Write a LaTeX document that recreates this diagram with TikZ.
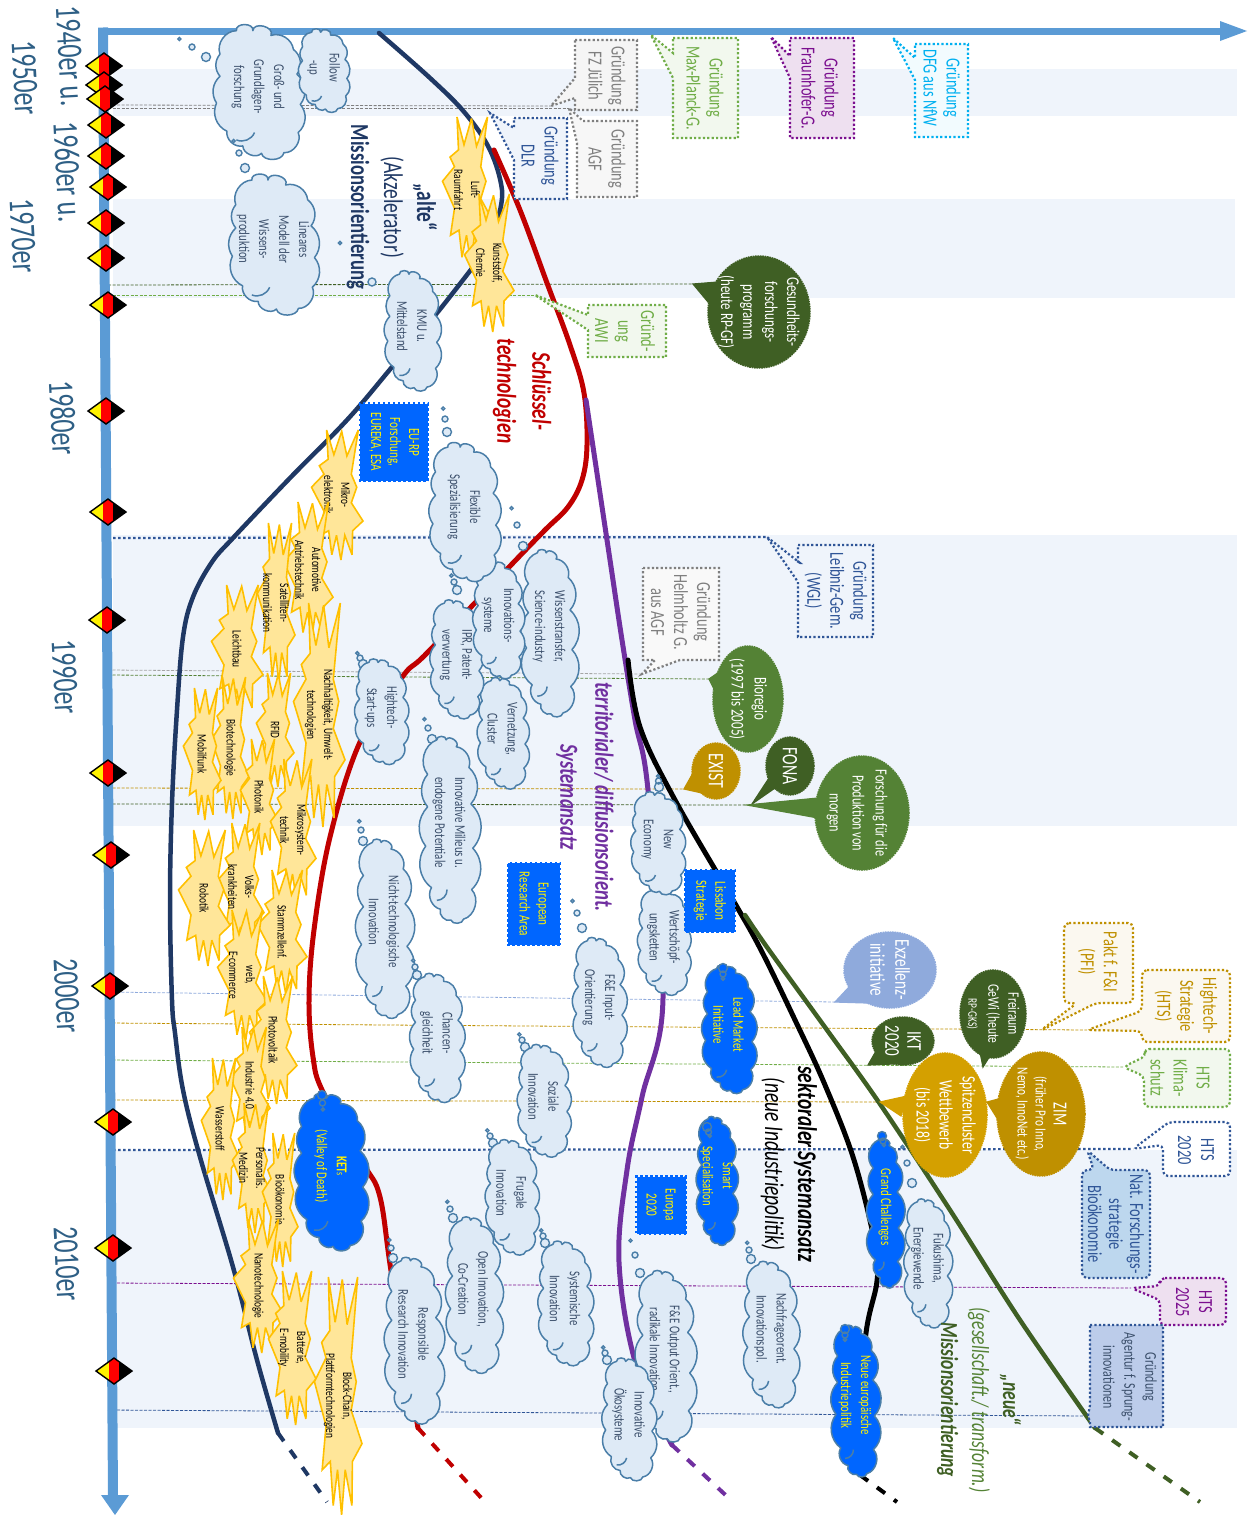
\documentclass[tikz,border=0pt]{standalone}
\usepackage{fontspec}
\setmainfont[FakeStretch=0.72]{Carlito}
\usetikzlibrary{shapes.geometric}
\definecolor{bandc}{HTML}{EFF4FB}
\definecolor{axisc}{HTML}{5B9BD5}
\definecolor{navyc}{HTML}{1F3864}
\definecolor{redc}{HTML}{C00000}
\definecolor{purc}{HTML}{7030A0}
\definecolor{grnc}{HTML}{3F5F24}
\definecolor{midg}{HTML}{548235}
\definecolor{lgrn}{HTML}{70AD47}
\definecolor{goldc}{HTML}{BF9000}
\definecolor{gold2}{HTML}{D4A000}
\definecolor{grayc}{HTML}{7F7F7F}
\definecolor{fhg}{HTML}{7B0F8F}
\definecolor{skyc}{HTML}{00B0F0}
\definecolor{dblue}{HTML}{2F5597}
\definecolor{peri}{HTML}{8FAADC}
\definecolor{cldf}{HTML}{DEEAF6}
\definecolor{clde}{HTML}{4A7EA8}
\definecolor{cldt}{HTML}{3B4F6B}
\definecolor{euc}{HTML}{0066FF}
\definecolor{starf}{HTML}{FFE699}
\definecolor{stare}{HTML}{FFC000}
\definecolor{decc}{HTML}{2E5F85}
\definecolor{natf}{HTML}{BDD7EE}
\newcommand\fs[2]{\fontsize{#1}{#2}\selectfont}
\def\cldc{cldt}
\tikzset{
  x=1pt,y=-1pt,
  tl/.style={rotate=-90,align=center,inner sep=0pt,outer sep=0pt},
  band/.style={fill=bandc,draw=none},
  curve/.style={line width=#1,line cap=round,line join=round},
  dsh/.style={line width=4pt,dash pattern=on 10pt off 11pt},
  thin line/.style={line width=.8pt,dash pattern=on 3pt off 1.5pt,#1},
  nav dots/.style={line width=2.2pt,dash pattern=on 2.5pt off 2.5pt,dblue},
  cal/.style={line width=2.2pt,dash pattern=on 2.2pt off 2.2pt,draw=#1,line join=miter},
  star path/.style={draw=stare,fill=starf,line width=1.6pt,line join=miter,miter limit=4},
  cloudA/.style={draw=clde,fill=cldf,line width=1.5pt,line join=round},
  cloudB/.style={draw=clde,fill=euc,line width=1.5pt,line join=round},
  eubox/.style={rectangle,fill=euc,draw=euc,line width=2.5pt,dash pattern=on 2.5pt off 2.5pt,inner sep=0pt,rotate=-90,align=center,text=yellow},
  oval/.style={ellipse,draw=#1,fill=#1,line width=1.5pt,inner sep=0pt},
  ovedge/.style={draw=#1,fill=#1,line width=1.2pt},
}
% text node
\newcommand\tx[7][]{\node[tl,text=#5,font=\fs{#3}{#4},#1] (#2) at (#6) {#7};}
% cloud: style,name,x1,y1,x2,y2,text
\newcommand\cld[7]{%
  \pgfmathsetmacro\cx{(#3+#5)/2}\pgfmathsetmacro\cy{(#4+#6)/2}%
  \pgfmathsetmacro\rx{0.9*(#5-#3)/2}\pgfmathsetmacro\ry{(#6-#4)/2}%
  \begin{scope}[shift={(\cx,\cy)},xscale=\rx,yscale=\ry]
    \coordinate (c1) at (-0.5,-0.9);\coordinate (c2) at (-0.12,-0.9);
    \coordinate (c3) at (0.3,-0.83);\coordinate (c4) at (0.82,-0.62);
    \coordinate (c5) at (0.9,-0.25);\coordinate (c6) at (0.98,0.2);
    \coordinate (c7) at (0.93,0.62);\coordinate (c8) at (0.6,0.92);
    \coordinate (c9) at (0.08,0.93);\coordinate (c10) at (-0.35,0.82);
    \coordinate (c11) at (-0.72,0.6);\coordinate (c12) at (-0.96,0.18);
    \coordinate (c13) at (-0.88,-0.22);\coordinate (c14) at (-0.88,-0.55);
    \coordinate (i1) at (-0.08,0.62);\coordinate (i2) at (-0.5,0.73);
  \end{scope}
  \draw[#1] (c1) to[bend left=100,looseness=1.3] (c2) to[bend left=100,looseness=1.3] (c3) to[bend left=50] (c4)
    to[bend left=45] (c5) to[bend left=45] (c6) to[bend left=45] (c7) to[bend left=60] (c8)
    to[bend left=80] (c9) to[bend left=70] (c10) to[bend left=55] (c11) to[bend left=45] (c12)
    to[bend left=40] (c13) to[bend left=40] (c14) to[bend left=55] (c1) -- cycle;
  \draw[draw=clde,line width=1.5pt] (i1) to[bend left=45] (i2);
  \pgfmathsetmacro\ty{\cy-0.06*\ry}%
  \node[tl,text=\cldc,font=\fs{15}{20}] (#2) at (\cx,\ty) {#7};}
% thought bubbles
\newcommand\bub[5][cldf]{%
  \pgfmathsetmacro\bxa{#2-#4}\pgfmathsetmacro\bya{#3-#5}%
  \pgfmathsetmacro\bxb{#2-1.9*#4}\pgfmathsetmacro\byb{#3-1.8*#5}%
  \draw[draw=clde,fill=#1,line width=1.4pt] (#2,#3) circle[radius=4.5pt] (\bxa,\bya) circle[radius=3pt] (\bxb,\byb) circle[radius=1.6pt];}
% starburst
\newcommand\burst[6]{%
  \draw[star path,shift={(#2,#3)},xscale=#4,yscale=#5]
   (-0.4,-1)--(-0.12,-0.62)--(0.18,-0.98)--(0.38,-0.6)--(0.82,-1)--(0.55,-0.32)--(0.76,-0.12)--(0.55,0.12)--(1,0.4)--(0.6,0.55)--(0.58,0.92)--(0.3,0.62)--(0.15,1)--(-0.02,0.62)--(-0.2,0.92)--(-0.32,0.55)--(-0.66,0.62)--(-0.5,0.25)--(-0.98,-0.12)--(-0.5,-0.32)--(-0.68,-0.45)--(-0.34,-0.55)--cycle;
  \node[tl,text=black,font=\fs{13}{17}] (#1) at (#2,#3) {#6};}
% blue stamp box
\newcommand\ebox[6]{\node[eubox,minimum width=#5pt,minimum height=#4pt,font=\fs{15.5}{19}] (#1) at (#2,#3) {#6};}
% oval callout: name,colour,cx,cy,rx,ry,tail path,tip
\newcommand\ovcall[8]{%
  \pgfmathsetmacro\wa{2*#6}\pgfmathsetmacro\wb{2*#5}%
  \draw[ovedge=#2] #7;
  \coordinate (#1-tip) at (#8);
  \node[oval=#2,minimum width=\wb pt,minimum height=\wa pt,dash pattern=on 1.6pt off .8pt] (#1) at (#3,#4) {};}
% dia flag
\newcommand\flagdia[2]{%
 \begin{scope}[shift={(#1,#2)}]
  \fill[yellow] (-18,0)--(-5,-9.4)--(-5,9.4)--cycle;
  \fill[red] (-5,-9.4)--(0,-13)--(5,-9.4)--(5,9.4)--(0,13)--(-5,9.4)--cycle;
  \fill[black] (5,-9.4)--(18,0)--(5,9.4)--cycle;
  \draw[black,line width=1.4pt,line join=miter] (-18,0)--(0,-13)--(18,0)--(0,13)--cycle;
 \end{scope}}
\begin{document}
\begin{tikzpicture}
\useasboundingbox (0,0) rectangle (1256,1515);
% bands
\fill[band] (113,69) rectangle (1237,116);
\fill[band] (113,199) rectangle (1235,298);
\fill[band] (113,535) rectangle (1237,826);
\fill[band] (113,1150) rectangle (1237,1428);
% anchors on the axis
\foreach \n/\y in {a/105,b/108,c/285,d/295,e/538,f/670,g/675,h/788,i/804,j/992,k/1023,l/1060,m/1100,n/1150,o/1283,p/1410}{\coordinate (ax-\n) at (108,\y);}
% tips
\coordinate (tipFZ) at (551,106);\coordinate (tipAGF) at (569,108);\coordinate (tipDLR) at (490,113);
\coordinate (tipAWI) at (535,295);\coordinate (tipGes) at (693,284);\coordinate (tipWGL) at (767,537);
\coordinate (tipHelm) at (642,674);\coordinate (tipBio) at (709,679);\coordinate (tipEx) at (684,789);
\coordinate (tipFo) at (747,805);\coordinate (tipExz) at (835,1002);\coordinate (tipHi) at (1087,1030);
\coordinate (tipKli) at (1123,1067);\coordinate (tipSp) at (880,1102);\coordinate (tipH20) at (1133,1149);
\coordinate (tipH25) at (1131,1288);\coordinate (tipAg) at (1088,1416);
% time lines
\draw[thin line=grayc] (ax-a)--(tipFZ);
\draw[thin line=grayc] (ax-b)--(tipAGF);
\draw[thin line=grnc] (ax-c)--(tipGes);
\draw[thin line=lgrn] (ax-d)--(tipAWI);
\draw[nav dots] (ax-e)--(tipWGL);
\draw[thin line=grayc!70] (ax-f)--(tipHelm);
\draw[thin line=midg] (ax-g)--(tipBio);
\draw[thin line=goldc] (ax-h)--(tipEx);
\draw[thin line=grnc] (ax-i)--(tipFo);
\draw[thin line=peri] (ax-j)--(tipExz);
\draw[thin line=goldc] (ax-k)--(tipHi);
\draw[thin line=lgrn] (ax-l)--(tipKli);
\draw[thin line=goldc] (ax-m)--(tipSp);
\draw[nav dots] (ax-n)--(tipH20);
\draw[thin line=fhg] (ax-o)--(tipH25);
\draw[thin line=dblue] (ax-p)--(tipAg);
% axes
\fill[axisc] (1220,21)--(1247,31)--(1220,41)--cycle;
\draw[axisc,line width=7pt] (98,31)--(1222,31);
\draw[axisc,line width=10pt] (103,27.5)--(113,1497);
\fill[axisc] (101,1495)--(129,1495)--(115,1515)--cycle;
% curves
\draw[navyc,curve=4.5pt] plot[smooth,tension=.6] coordinates {(379,33)(430,78)(465,113)(490,150)(502,190)(498,218)};
\draw[navyc,curve=4.5pt] plot[smooth,tension=.6] coordinates {(473,267)(437,313)(392,367)(347,420)(290,478)(233,538)(212,562)(193,597)(183,637)(177,710)(172,803)(170,900)(172,1000)(175,1033)(183,1090)(200,1157)(233,1267)(257,1360)(278,1433)};
\draw[navyc,dsh] (278,1433)--(327,1502);
\draw[redc,curve=5pt] plot[smooth,tension=.6] coordinates {(494,150)(520,210)(547,283)(570,345)(584,393)(587,445)(582,480)(568,507)(545,530)(512,564)(427,653)(403,676)(360,742)(330,837)(314,930)(309,1000)(313,1057)(323,1092)(363,1163)(380,1197)(392,1277)(418,1428)};
\draw[redc,dsh] (418,1428)--(485,1502);
\draw[purc,curve=5pt] plot[smooth,tension=.6] coordinates {(586,400)(598,480)(610,560)(622,640)(635,720)(648,790)(663,998)(642,1097)(627,1170)(619,1262)(636,1365)(672,1445)};
\draw[purc,dsh] (672,1445)--(733,1502);
\draw[black,curve=5pt] plot[smooth,tension=.6] coordinates {(628,660)(640,727)(675,800)(733,900)(761,950)(795,1020)(825,1085)(854,1160)(875,1244)(877,1281)(865,1342)(860,1470)};
\draw[black,dsh] (860,1475)--(897,1502);
\draw[grnc,curve=4.5pt] plot[smooth,tension=.6] coordinates {(745,915)(769,950)(827,1030)(880,1104)(950,1210)(1020,1320)(1095,1428)};
\draw[grnc,dsh] (1095,1428)--(1200,1502);
% diamonds
\foreach \x/\y in {104/66,104/85,105/99,106/125,106/156,108/187,106/223,106/258,108/305,106/411,108/512,107/620,108/773,111/855,110/986,113/1122,113/1248,114/1371}{\flagdia{\x}{\y}}
% decade labels
\tx[rotate=3]{d40}{36}{36}{decc}{70,56}{1940er u.}
\tx[rotate=3]{d50}{36}{36}{decc}{25,78}{1950er}
\tx[rotate=3]{d60}{36}{36}{decc}{68,172}{1960er u.}
\tx[rotate=3]{d70}{36}{36}{decc}{23,236}{1970er}
\tx[rotate=3]{d80}{36}{36}{decc}{63,418}{1980er}
\tx[rotate=3]{d90}{36}{36}{decc}{65,677}{1990er}
\tx[rotate=3]{d00}{36}{36}{decc}{67,996}{2000er}
\tx[rotate=3]{d10}{36}{36}{decc}{67,1264}{2010er}
% bursts
\burst{sLuft}{467}{190}{25}{73}{Luft-\\Raumfahrt}
\burst{sKunst}{489}{263}{25}{69}{Kunststoff,\\Chemie}
\burst{sMikro}{337}{495}{26}{65}{Mikro-\\elektronik}
\burst{sAuto}{308}{570}{25}{68}{Automotive\\Antriebstechnik}
\burst{sSat}{276}{603}{19}{80}{Satelliten-\\kommunikation}
\burst{sLeicht}{237}{649}{26}{64}{Leichtbau}
\burst{sNach}{319}{715}{26}{112}{Nachhaltigkeit, Umwelt-\\technologien}
\burst{sRfid}{275}{730}{19}{57}{RFID}
\burst{sBio}{230}{748}{19}{71}{Biotechnologie}
\burst{sMob}{202}{754}{19}{66}{Mobilfunk}
\burst{sPhot}{259}{797}{19}{58}{Photonik}
\burst{sMsys}{293}{830}{23}{71}{Mikrosystem-\\technik}
\burst{sVolk}{241}{887}{23}{64}{Volks-\\krankheiten}
\burst{sRob}{204}{898}{26}{68}{Robotik}
\burst{sStam}{282}{932}{25}{62}{Stammzellenf.}
\burst{sWeb}{242}{975}{25}{65}{web,\\E-commerce}
\burst{sPv}{273}{1040}{24}{64}{Photovoltaik}
\burst{sInd}{250}{1085}{20}{58}{Industrie 4.0}
\burst{sWass}{220}{1129}{19}{71}{Wasserstoff}
\burst{sPers}{252}{1168}{20}{65}{Personalis.\\Medizin}
\burst{sBiooek}{280}{1200}{18}{67}{Bioökonomie}
\burst{sNano}{258}{1286}{25}{67}{Nanotechnologie}
\burst{sBatt}{292}{1348}{24}{77}{Batterie,\\E-mobility}
\burst{sBlock}{338}{1396}{24}{119}{Block-Chain,\\Plattformtechnologien}
% clouds
\bub{206}{57}{14}{10}
\cld{cloudA}{cGross}{210}{24}{306}{158}{Groß- und\\Grundlagen-\\forschung}
\cld{cloudA}{cFollow}{297}{28}{350}{112}{Follow\\-up}
\bub{245}{168}{6}{15}
\cld{cloudA}{cLin}{226}{173}{320}{314}{Lineares\\Modell der\\Wissens-\\produktion}
\draw[draw=clde,fill=cldf,line width=1.4pt] (372,282) circle[radius=4pt] (340,243) circle[radius=1.6pt];
\cld{cloudA}{cKmu}{384}{268}{440}{392}{KMU u.\\Mittelstand}
\bub{523}{546}{6}{21}
\cld{cloudA}{cWiss}{523}{544}{575}{720}{Wissenstransfer,\\Science-industry}
\cld{cloudA}{cVern}{477}{675}{528}{790}{Vernetzung,\\Cluster}
\bub{457}{590}{3}{8}
\cld{cloudA}{cIpr}{430}{597}{482}{720}{IPR, Patent-\\verwertung}
\cld{cloudA}{cInno}{473}{558}{523}{680}{Innovations-\\systeme}
\bub{447}{432}{2}{13}
\cld{cloudA}{cFlex}{428}{440}{500}{582}{Flexible\\Spezialisierung}
\bub{363}{664}{3}{6}
\cld{cloudA}{cHigh}{354}{657}{408}{765}{Hightech-\\Start-ups}
\bub{432}{739}{4}{11}
\cld{cloudA}{cMil}{422}{730}{476}{927}{Innovative Milieus u.\\endogene Potentiale}
\bub{363}{841}{2}{11}
\cld{cloudA}{cNicht}{358}{833}{410}{1022}{Nicht-technologische\\Innovation}
\bub{417}{975}{2}{8}
\cld{cloudA}{cChan}{410}{970}{463}{1104}{Chancen-\\gleichheit}
\bub{582}{928}{5}{15}
\cld{cloudA}{cInput}{573}{934}{625}{1069}{F\&E Input-\\Orientierung}
\bub{525}{1047}{3}{7}
\cld{cloudA}{cSoz}{517}{1042}{570}{1158}{Soziale\\Innovation}
\bub{493}{1143}{3}{7}
\cld{cloudA}{cFrug}{485}{1137}{538}{1256}{Frugale\\Innovation}
\bub{453}{1218}{3}{9}
\cld{cloudA}{cOpen}{447}{1212}{500}{1376}{Open Innovation,\\Co-Creation}
\bub{545}{1243}{2}{7}
\cld{cloudA}{cSys}{538}{1238}{592}{1367}{Systemische\\Innovation}
\bub{393}{1258}{2}{10}
\cld{cloudA}{cResp}{386}{1252}{441}{1427}{Responsible\\Research Innovation}
\bub{640}{1273}{5}{18}
\cld{cloudA}{cOut}{637}{1265}{693}{1445}{F\&E Output Orient.,\\radikale Innovation}
\bub{607}{1360}{2}{7}
\cld{cloudA}{cOek}{602}{1355}{655}{1482}{Innovative\\Ökosysteme}
\bub{751}{1259}{2}{9}
\cld{cloudA}{cNach}{744}{1257}{797}{1410}{Nachfrageorent.\\Innovationspol.}
\bub{912}{1183}{5}{20}
\cld{cloudA}{cFuku}{905}{1195}{950}{1330}{Fukushima,\\Energiewende}
\cld{cloudA}{cWert}{637}{885}{690}{996}{Wertschöpf-\\ungsketten}
\bub{659}{787}{.5}{6}
\cld{cloudA}{cNew}{630}{790}{685}{895}{New\\Economy}
% blue clouds
\def\cldc{yellow}
\cld{cloudB}{cKet}{294}{1090}{367}{1252}{\textbf{KET}{\fontsize{11}{11}\selectfont s}\\(Valley of Death)}
\cld{cloudB}{cLead}{702}{962}{755}{1095}{Lead Market\\Initiative}
\cld{cloudB}{cSmart}{698}{1112}{735}{1248}{Smart\\Specialisation}
\cld{cloudB}{cGrand}{870}{1132}{900}{1292}{Grand Challenges}
\cld{cloudB}{cNeu}{833}{1320}{877}{1480}{Neue europäische\\Industriepolitik}
\bub[euc]{322}{1095}{-.5}{-8}
\bub[euc]{723}{968}{0}{-6}
\bub[euc]{707}{1127}{-1.5}{-5}
\bub[euc]{882}{1136}{-1}{-5}
\bub[euc]{845}{1329}{0}{-6}
% blue boxes
\ebox{bEu}{394}{442}{68}{77}{EU-RP\\Forschung,\\EUREKA, ESA}
\ebox{bEra}{534}{904}{52}{82}{European\\Research Area}
\ebox{bLis}{710}{901}{50}{62}{Lissabon\\Strategie}
\ebox{bEur}{661}{1205}{49}{57}{Europa\\2020}
% rect callouts
\draw[cal=grayc,fill=gray!8] (575,40)--(637,40)--(637,110)--(575,110)--(575,98)--(tipFZ)--(575,78)--cycle;
\tx{tFZ}{20}{23}{grayc}{607,76}{Gründung\\FZ Jülich}
\draw[cal=grayc,fill=gray!6] (583,121)--(637,121)--(637,197)--(577,197)--(577,143)--(tipAGF)--cycle;
\tx{tAGF}{20}{23}{grayc}{607,159}{Gründung\\AGF}
\draw[cal=dblue,fill=bandc] (514,118)--(567,118)--(567,199)--(514,199)--(514,160)--(tipDLR)--(514,128)--cycle;
\tx{tDLR}{20}{23}{dblue}{540,156}{Gründung\\DLR}
\draw[cal=lgrn,fill=lgrn!9] (673,38)--(738,38)--(738,138)--(673,138)--(673,78)--(651,35)--(673,53)--cycle;
\tx{tMPG}{20}{23}{lgrn}{705,88}{Gründung\\Max-Planck-G.}
\draw[cal=fhg,fill=fhg!13] (790,38)--(854,38)--(854,138)--(790,138)--(790,78)--(771,37)--(790,56)--cycle;
\tx{tFHG}{20}{23}{fhg}{820,88}{Gründung\\Fraunhofer-G.}
\draw[cal=skyc,fill=skyc!5] (915,44)--(968,44)--(968,137)--(915,137)--(915,80)--(893,38)--(915,58)--cycle;
\tx{tDFG}{20}{23}{skyc}{942,88}{Gründung\\DFG aus NfW}
\draw[cal=lgrn,fill=lgrn!9] (588,305)--(666,305)--(666,357)--(588,357)--(588,330)--(tipAWI)--(588,315)--cycle;
\tx{tAWI}{20}{23}{lgrn}{625,331}{Gründ-\\ung\\AWI}
\draw[cal=dblue,fill=bandc] (798,545)--(873,545)--(873,637)--(798,637)--(798,582)--(tipWGL)--(800,563)--(798,563)--cycle;
\tx{tWGL}{20}{23}{dblue}{836,591}{Gründung\\Leibniz-Gem.\\(WGL)}
\draw[cal=grayc,fill=gray!5] (643,568)--(719,568)--(719,660)--(680,660)--(tipHelm)--(655,660)--(643,660)--cycle;
\tx{tHel}{20}{23}{grayc}{681,612}{Gründung\\Helmholtz G.\\aus AGF}
\draw[cal=goldc,fill=goldc!6,rounded corners=5pt] (1064,923)--(1133,923)--(1133,1003)--(1096,1003)--(1040,1031)--(1077,1003)--(1064,1003)--cycle;
\tx{tPakt}{20}{23}{goldc}{1098,962}{Pakt f. F\&I\\(PFI)}
\draw[cal=goldc,fill=goldc!6,rounded corners=5pt] (1142,970)--(1230,970)--(1230,1042)--(1142,1042)--(1142,1031)--(tipHi)--(1142,1011)--cycle;
\tx{tHTS}{20}{23}{goldc}{1186,1006}{Hightech-\\Strategie\\(HTS)}
\draw[cal=lgrn,fill=lgrn!9,rounded corners=5pt] (1144,1049)--(1230,1049)--(1230,1107)--(1144,1107)--(1144,1076)--(tipKli)--(1146,1056)--cycle;
\tx{tKli}{20}{23}{lgrn}{1180,1078}{HTS\\Klima-\\schutz}
\draw[cal=dblue,fill=white,rounded corners=5pt] (1169,1122)--(1230,1122)--(1230,1176)--(1163,1176)--(1163,1145)--(tipH20)--cycle;
\tx{tH20}{20}{23}{dblue}{1196,1150}{HTS\\2020}
\draw[cal=dblue,fill=natf,rounded corners=5pt] (1110,1170)--(1150,1170)--(1150,1278)--(1082,1278)--(1082,1170)--(1094,1170)--(1087,1150)--cycle;
\tx{tNat}{20}{21}{dblue}{1116,1224}{Nat. Forschungs-\\strategie\\Bioökonomie}
\draw[cal=fhg,fill=fhg!13,rounded corners=5pt] (1160,1278)--(1226,1278)--(1226,1325)--(1160,1325)--(1160,1300)--(tipH25)--(1160,1286)--cycle;
\tx{tH25}{20}{23}{fhg}{1194,1302}{HTS\\2025}
\draw[cal=dblue,fill=peri!60] (1090,1325)--(1163,1325)--(1163,1427)--(1090,1427)--(1090,1422)--(tipAg)--(1090,1405)--cycle;
\tx{tAg}{16.5}{21}{cldt}{1130,1377}{Gründung\\Agentur f. Sprung-\\innovationen}
% oval callouts
\ovcall{oGes}{grnc}{759}{312}{51}{56}{(718,282)--(693,284)--(708,302)--cycle}{693,284}
\ovcall{oBio}{midg}{748}{699}{35}{53}{(722,670)--(709,679)--(716,693)--cycle}{709,679}
\ovcall{oEx}{goldc}{716}{771}{24}{28}{(693,773)--(684,789)--(702,793)--cycle}{684,789}
\ovcall{oFona}{grnc}{790}{766}{24}{29}{(769,778)--(752,804)--(775,788)--cycle}{752,804}
\ovcall{oFor}{midg}{862}{813}{47}{57}{(818,798)--(747,805)--(818,818)--cycle}{747,805}
\ovcall{oExz}{peri}{890}{970}{46}{38}{(849,987)--(835,1002)--(867,1003)--cycle}{835,1002}
\ovcall{oFrei}{grnc}{993}{1014}{33}{44}{(979,1047)--(983,1067)--(993,1051)--cycle}{983,1067}
\ovcall{oIkt}{grnc}{903}{1041}{31}{24}{(876,1051)--(868,1065)--(893,1064)--cycle}{868,1065}
\ovcall{oSpi}{gold2}{945}{1115}{42}{62}{(907,1096)--(880,1102)--(901,1116)--cycle}{880,1102}
\ovcall{oZim}{goldc}{1041}{1114}{44}{62}{(1002,1098)--(987,1102)--(1000,1123)--cycle}{987,1102}
\tx{tGes}{18}{22}{white}{759,312}{Gesundheits-\\forschungs-\\programm\\(heute RP-GF)}
\tx{tBio}{18}{23}{white}{748,699}{Bioregio\\(1997 bis 2005)}
\tx{tEx}{22}{20}{white}{716,771}{EXIST}
\tx{tFona}{22}{20}{white}{790,766}{FONA}
\tx{tFor}{17}{23}{white}{857,813}{Forschung für die\\Produktion von\\morgen}
\tx{tExz}{21}{25}{white}{890,970}{Exzellenz-\\initiative}
\tx{tFrei}{16}{20}{white}{993,1014}{Freiraum\\GeWi (heute\\\fs{13}{14}RP-GKS)}
\tx{tIkt}{21}{22}{white}{903,1041}{IKT\\2020}
\tx{tSpi}{19}{23}{white}{945,1115}{Spitzencluster\\Wettbewerb\\(bis 2018)}
\tx{tZim}{15.5}{18}{white}{1041,1114}{{\fs{20}{22}ZIM}\\(früher Pro Inno,\\Nemo, InnoNet etc.)}
% labels
\tx[font=\fs{27}{33}]{lAlte}{27}{33}{navyc}{392,207}{\textbf{„alte“}\\(Akzelerator)\\\textbf{\fontsize{26}{33}\selectfont Missionsorientierung}}
\tx[font=\fs{27}{35}\bfseries\itshape]{lSch}{27}{35}{redc}{522,391}{Schlüssel-\\technologien}
\tx[font=\fs{26}{35}\bfseries\itshape]{lTer}{26}{35}{purc}{585,797}{territorialer/ diffusionsorient.\\Systemansatz}
\tx[font=\fs{27}{33}\itshape]{lSek}{27}{33}{black}{789,1164}{\textbf{sektoraler Systemansatz}\\(neue Industriepolitik)}
\tx[font=\fs{24.5}{31}\itshape]{lNeu}{24.5}{31}{grnc}{979,1400}{\textbf{„neue“}\\\textcolor{midg}{(gesellschaft./ transform.)}\\\textbf{Missionsorientierung}}
\end{tikzpicture}
\end{document}
